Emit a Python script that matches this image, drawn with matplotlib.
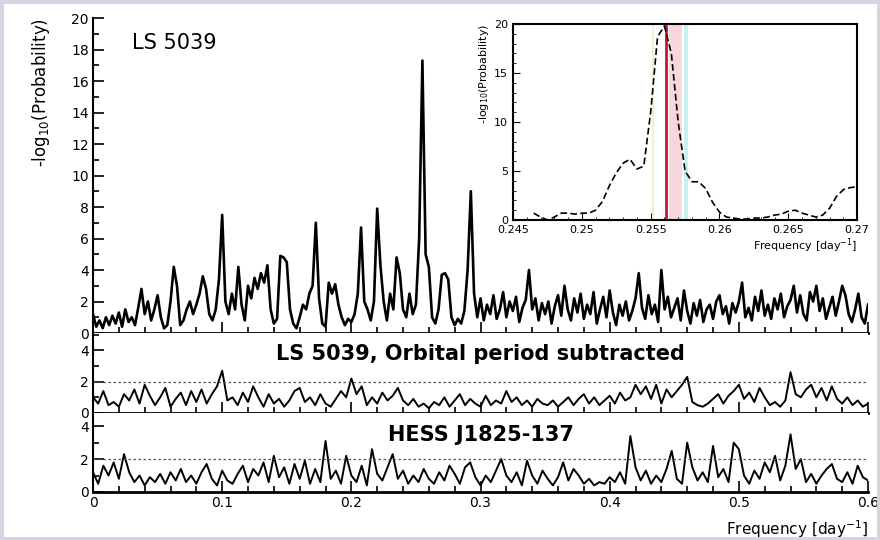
import numpy as np
import matplotlib
matplotlib.use("Agg")
import matplotlib.pyplot as plt
from matplotlib.patches import Rectangle
from matplotlib.ticker import MultipleLocator, FuncFormatter

# -log10(probability), frequency step 0.0025 from 0 to 0.6
ls5039 = [
    1.2, 0.4, 0.8, 0.3, 1.0, 0.5, 1.1, 0.6, 1.3, 0.4, 1.5, 0.7, 1.0, 0.5, 1.6, 2.8, 1.2, 2.0, 0.8, 1.5,
    2.4, 1.0, 0.3, 0.5, 2.0, 4.2, 3.0, 0.5, 0.8, 1.5, 2.0, 1.2, 1.8, 2.5, 3.6, 2.8, 1.2, 0.8, 1.5, 3.4,
    7.5, 2.0, 1.2, 2.5, 1.5, 4.2, 1.8, 0.8, 3.0, 2.2, 3.5, 2.8, 3.8, 3.2, 4.3, 1.5, 0.6, 0.9, 4.9, 4.8,
    4.5, 1.5, 0.6, 0.3, 1.0, 1.8, 1.5, 2.5, 3.0, 7.0, 2.2, 0.6, 0.4, 3.2, 2.5, 3.1, 1.8, 1.0, 0.5, 0.9,
    0.7, 1.2, 2.5, 6.7, 2.0, 1.5, 0.8, 2.0, 7.9, 4.3, 2.0, 0.8, 2.5, 1.5, 4.8, 3.8, 1.5, 1.0, 2.5, 1.2,
    1.8, 6.0, 17.3, 5.0, 4.2, 1.0, 0.6, 1.5, 3.7, 3.8, 3.4, 1.0, 0.5, 0.9, 0.6, 1.4, 4.0, 9.0, 2.5, 1.0,
    2.2, 0.8, 1.8, 1.2, 2.4, 0.9, 1.5, 2.6, 1.0, 2.0, 1.4, 2.3, 0.7, 1.6, 2.1, 4.0, 1.5, 2.2, 0.8, 1.9,
    1.2, 2.0, 0.6, 1.7, 2.4, 1.1, 3.0, 1.5, 0.8, 2.2, 1.3, 2.5, 0.9, 1.8, 1.2, 2.6, 0.6, 1.5, 2.3, 1.0,
    2.7, 1.3, 0.5, 1.8, 1.1, 2.0, 0.8, 1.4, 2.2, 3.8, 1.6, 0.9, 2.4, 1.2, 1.8, 0.7, 4.0, 1.5, 2.3, 1.0,
    1.6, 2.2, 0.8, 2.7, 1.4, 0.6, 1.9, 1.1, 2.1, 0.7, 1.5, 1.8, 0.9, 2.0, 2.4, 1.2, 1.7, 0.6, 1.9, 1.3,
    2.0, 3.2, 1.0, 1.6, 0.8, 2.3, 1.4, 2.7, 1.1, 1.8, 0.9, 2.2, 1.5, 2.5, 1.0, 1.7, 2.1, 3.0, 1.3, 2.4,
    1.2, 0.8, 2.6, 2.0, 3.0, 1.4, 2.2, 0.9, 1.6, 2.3, 1.1, 2.0, 3.0, 2.4, 1.2, 0.7, 1.5, 2.5, 1.0, 0.6,
    1.8,
]

# frequency step 0.004 from 0 to 0.6
ls5039_sub = [
    1.0, 0.6, 1.4, 0.5, 0.7, 0.4, 1.2, 0.8, 1.5, 0.6, 1.8, 1.1, 0.5, 1.0, 1.6, 0.4, 0.9, 1.3, 0.5, 1.4,
    0.7, 1.5, 0.6, 1.2, 1.7, 2.7, 0.8, 1.0, 0.5, 1.3, 0.7, 1.7, 1.0, 0.4, 1.2, 0.6, 0.9, 0.4, 0.8, 1.4,
    1.6, 0.7, 1.0, 0.5, 1.2, 0.6, 0.4, 0.9, 1.4, 1.0, 2.2, 1.2, 1.7, 0.5, 1.0, 0.6, 1.3, 0.8, 1.1, 1.6,
    0.8, 0.5, 0.9, 0.4, 0.6, 0.3, 0.7, 0.5, 1.0, 0.4, 0.8, 1.2, 0.5, 0.9, 0.6, 0.4, 1.1, 0.5, 0.8, 0.6,
    1.4, 0.7, 1.0, 0.5, 0.8, 0.4, 0.9, 0.6, 0.5, 0.8, 0.4, 0.7, 1.0, 0.5, 0.9, 1.2, 0.6, 1.0, 0.5, 0.8,
    1.1, 0.6, 1.3, 0.8, 1.0, 1.8, 1.2, 1.7, 0.9, 1.8, 0.6, 1.5, 1.0, 1.4, 1.8, 2.3, 0.7, 0.5, 0.4, 0.6,
    0.9, 1.2, 0.6, 1.1, 1.4, 1.8, 0.9, 1.3, 0.7, 1.6, 1.0, 0.5, 0.7, 0.4, 0.8, 2.6, 1.2, 1.0, 1.5, 1.8,
    1.0, 1.6, 0.8, 1.7, 0.9, 0.6, 1.0, 0.5, 0.8, 0.4, 0.6,
]

hess = [
    1.2, 0.5, 1.6, 1.0, 1.8, 0.8, 2.3, 1.2, 0.6, 1.0, 0.4, 0.9, 0.6, 1.1, 0.5, 1.2, 0.7, 1.4, 0.6, 1.0,
    0.5, 1.2, 1.7, 0.8, 0.4, 1.3, 0.7, 0.5, 1.1, 1.6, 0.6, 1.4, 1.0, 1.8, 0.6, 2.2, 0.9, 1.5, 0.5, 1.7,
    0.8, 1.9, 0.5, 1.4, 0.6, 3.1, 0.8, 1.3, 0.5, 2.2, 1.0, 0.6, 1.6, 0.4, 2.6, 1.1, 0.7, 1.5, 2.3, 0.8,
    1.3, 0.5, 1.0, 0.6, 1.4, 0.8, 0.5, 1.2, 0.7, 1.6, 1.1, 0.5, 1.5, 1.8, 0.9, 0.4, 1.0, 0.6, 1.3, 2.0,
    1.0, 0.6, 1.2, 0.4, 1.9, 1.0, 0.5, 1.3, 0.8, 0.4, 0.9, 1.8, 0.7, 1.4, 1.0, 0.5, 0.8, 0.4, 0.6, 0.5,
    0.9, 0.6, 1.2, 0.5, 3.4, 1.5, 0.7, 1.3, 0.5, 1.0, 0.6, 1.4, 2.5, 0.8, 0.5, 3.0, 1.5, 0.7, 1.2, 0.6,
    2.8, 0.9, 1.4, 0.6, 3.0, 2.6, 1.0, 0.5, 1.3, 0.8, 1.8, 1.2, 2.2, 0.7, 1.6, 3.5, 1.4, 2.0, 0.6, 1.1,
    0.5, 1.0, 1.4, 1.7, 0.8, 0.6, 1.2, 0.5, 1.6, 0.9, 0.7,
]

# zoom on the orbital peak, step 0.0005 from 0.2465 to 0.27
zoom_vals = [
    0.7, 0.3, 0.0, 0.3, 0.7, 0.7, 0.6, 0.7, 0.7, 1.0, 1.9, 3.5, 4.8, 5.8, 6.2, 5.2,
    5.5, 11.0, 18.7, 19.8, 17.0, 10.0, 5.0, 3.9, 3.9, 3.2, 1.8, 0.8, 0.3, 0.2, 0.1, 0.1,
    0.2, 0.2, 0.3, 0.5, 0.6, 0.9, 1.0, 0.7, 0.5, 0.3, 0.5, 1.2, 2.4, 3.1, 3.3, 3.4,
]
orbit_freq = 0.2561
inset_ticks = [0.245, 0.25, 0.255, 0.26, 0.265, 0.27]
inset_labels = ["0.245", "0.25", "0.255", "0.26", "0.265", "0.27"]

f_top = np.linspace(0, 0.6, len(ls5039))
f_sub = np.linspace(0, 0.6, len(ls5039_sub))
f_hess = np.linspace(0, 0.6, len(hess))
f_zoom = np.linspace(0.2465, 0.27, len(zoom_vals))

fig = plt.figure(figsize=(8.8, 5.4), dpi=100)
fig.patches.append(Rectangle((0, 0), 1, 1, transform=fig.transFigure, fill=False,
                             edgecolor="#d4d5e3", linewidth=5))

ax1 = fig.add_axes([0.1057, 0.3833, 0.8807, 0.5833])
ax2 = fig.add_axes([0.1057, 0.2352, 0.8807, 0.1481], sharex=ax1)
ax3 = fig.add_axes([0.1057, 0.0889, 0.8807, 0.1463], sharex=ax1)

ax1.plot(f_top, ls5039, color="black", lw=1.9)
ax2.plot(f_sub, ls5039_sub, color="black", lw=1.4)
ax3.plot(f_hess, hess, color="black", lw=1.4)

ax1.set_ylim(0, 20)
ax2.set_ylim(0, 5.1)
ax3.set_ylim(0, 4.8)
ax1.set_xlim(0, 0.6)

for ax in (ax1, ax2, ax3):
    ax.spines["top"].set_visible(False)
    ax.spines["right"].set_visible(False)
    ax.spines["bottom"].set_linewidth(2)
    ax.spines["left"].set_linewidth(1.5)
    ax.tick_params(direction="in", which="both", labelsize=10, width=1.2, pad=3)
    ax.tick_params(which="major", length=8)
    ax.tick_params(which="minor", length=4)
    ax.xaxis.set_major_locator(MultipleLocator(0.1))
    ax.xaxis.set_minor_locator(MultipleLocator(0.02))
    ax.yaxis.set_major_locator(MultipleLocator(2))
    ax.yaxis.set_minor_locator(MultipleLocator(1))

for ax in (ax2, ax3):
    ax.axhline(2, color="#555555", lw=0.9, ls=(0, (2, 2)))

ax3.xaxis.set_major_formatter(FuncFormatter(lambda v, p: "0" if abs(v) < 1e-9 else f"{v:.1f}"))
ax1.tick_params(labelbottom=False)
ax2.tick_params(labelbottom=False)

ax1.set_ylabel("-log$_{10}$(Probability)", fontsize=12, loc="top", labelpad=14)
ax3.set_xlabel("Frequency [day$^{-1}$]", fontsize=11, loc="right", labelpad=6)

ax1.text(0.05, 0.92, "LS 5039", transform=ax1.transAxes, fontsize=15, va="center")
ax2.text(0.5, 0.74, "LS 5039, Orbital period subtracted", transform=ax2.transAxes,
         fontsize=15, ha="center", va="center", fontweight="bold")
ax3.text(0.5, 0.72, "HESS J1825-137", transform=ax3.transAxes,
         fontsize=15, ha="center", va="center", fontweight="bold")

# inset
axi = fig.add_axes([0.583, 0.5926, 0.391, 0.363])
axi.axvspan(0.2563, 0.2573, color="#f7d6dc", lw=0)
axi.axvline(0.2576, color="#c8f0f0", lw=3)
axi.axvline(0.2552, color="#f6f0c8", lw=1.5)
axi.axvline(orbit_freq, color="#d0103a", lw=2)
axi.plot(f_zoom, zoom_vals, color="black", lw=1.2, ls=(0, (4, 2)))
axi.set_xlim(0.245, 0.27)
axi.set_ylim(0, 20)
axi.set_xticks(inset_ticks)
axi.set_xticklabels(inset_labels)
axi.xaxis.set_minor_locator(MultipleLocator(0.001))
axi.yaxis.set_major_locator(MultipleLocator(5))
axi.yaxis.set_minor_locator(MultipleLocator(1))
axi.tick_params(direction="in", which="both", labelsize=8, top=False, right=False)
axi.tick_params(which="major", length=5)
axi.tick_params(which="minor", length=2.5)
for s in axi.spines.values():
    s.set_linewidth(1.5)
axi.set_xlabel("Frequency [day$^{-1}$]", fontsize=8, loc="right", labelpad=1)
axi.set_ylabel("-log$_{10}$(Probability)", fontsize=8, loc="top", labelpad=2)

fig.savefig("out.png", dpi=100)
